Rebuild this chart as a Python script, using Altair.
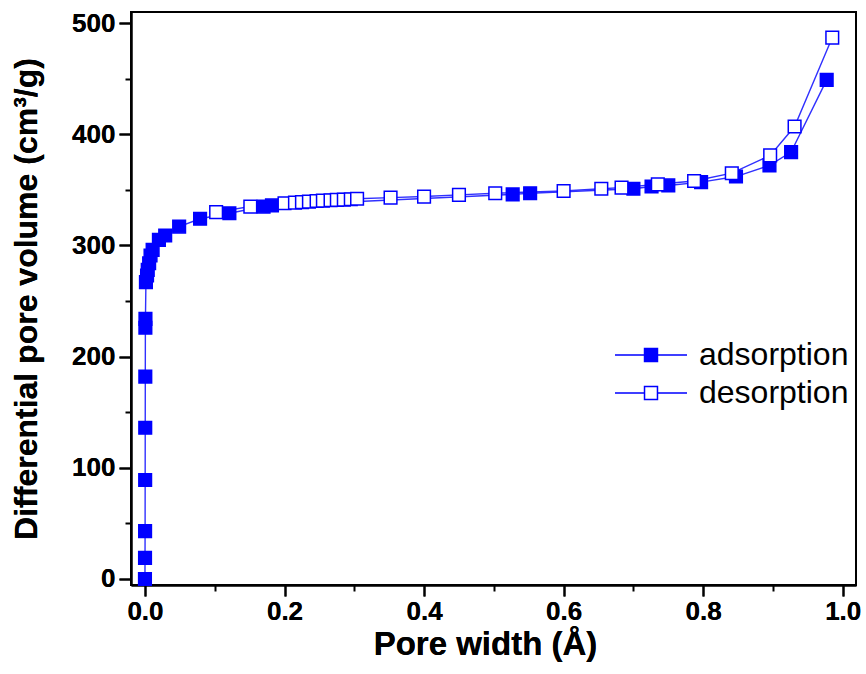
import altair as alt
import pandas as pd

series_names = ["adsorption", "desorption"]

ads_x = [0.0, 0.0001, 0.0002, 0.0003, 0.0004, 0.0005, 0.0006, 0.0007, 0.0014, 0.003,
         0.004, 0.006, 0.008, 0.011, 0.02, 0.029, 0.049, 0.079, 0.121, 0.17, 0.182,
         0.527, 0.552, 0.70, 0.726, 0.75, 0.797, 0.847, 0.895, 0.926, 0.977]
ads_y = [0, 19, 43, 89, 136, 182, 226, 234, 267, 273,
         278, 284, 291, 296, 305, 309, 317, 324, 329, 335, 336,
         346, 347, 351, 353, 354, 357, 362, 372, 384, 449]

des_x = [0.102, 0.151, 0.2, 0.215, 0.225, 0.235, 0.246, 0.255, 0.266, 0.275, 0.285,
         0.295, 0.304, 0.352, 0.40, 0.45, 0.502, 0.60, 0.654, 0.683, 0.735, 0.787,
         0.841, 0.896, 0.931, 0.985]
des_y = [330, 335, 338, 338.5, 339, 339.5, 340, 340.3, 340.7, 341, 341.3,
         341.6, 342, 343, 344, 345.5, 347, 349, 351, 352, 355, 358,
         365, 381, 407, 487]

x_major = [0.0, 0.2, 0.4, 0.6, 0.8, 1.0]
x_minor = [0.1, 0.3, 0.5, 0.7, 0.9]
y_major = [0, 100, 200, 300, 400, 500]
y_minor = [50, 150, 250, 350, 450]

rows = []
for i, (xv, yv) in enumerate(zip(ads_x, ads_y)):
    rows.append({"x": xv, "y": yv, "series": series_names[0], "order": i})
for i, (xv, yv) in enumerate(zip(des_x, des_y)):
    rows.append({"x": xv, "y": yv, "series": series_names[1], "order": i})
df = pd.DataFrame(rows)

FONT = "Liberation Sans"
BLUE = "#0000ff"
LINE_BLUE = "#3030ff"

x_scale = alt.Scale(domain=[-0.02, 1.019], nice=False, zero=False)
y_scale = alt.Scale(domain=[-5.4, 510], nice=False, zero=False)
fill_scale = alt.Scale(domain=series_names, range=[BLUE, "#ffffff"])

x_axis = alt.Axis(values=x_major, format=".1f", title="Pore width (Å)", orient="bottom",
                  labelFont=FONT, labelFontSize=26, labelFontWeight="bold", labelColor="black",
                  labelPadding=2, tickSize=11, tickWidth=2, tickColor="black",
                  domainColor="black", domainWidth=2, grid=False,
                  titleFont=FONT, titleFontSize=33, titleFontWeight="bold", titleColor="black",
                  titlePadding=4, titleX=354)
y_axis = alt.Axis(values=y_major, format="d", title="Differential pore volume (cm³/g)",
                  orient="left",
                  labelFont=FONT, labelFontSize=26, labelFontWeight="bold", labelColor="black",
                  labelPadding=4, tickSize=12, tickWidth=2, tickColor="black",
                  domainColor="black", domainWidth=2, grid=False,
                  titleFont=FONT, titleFontSize=32, titleFontWeight="bold", titleColor="black",
                  titlePadding=28)

x_minor_axis = alt.Axis(values=x_minor, labels=False, domain=False, grid=False, orient="bottom",
                        tickSize=6, tickWidth=2, tickColor="black", title=None)
y_minor_axis = alt.Axis(values=y_minor, labels=False, domain=False, grid=False, orient="left",
                        tickSize=6, tickWidth=2, tickColor="black", title=None)

# custom legend glyph: line with a square in the middle (scaled by sqrt(size)/2 = 12)
legend_path = "M-3,0H-0.54M0.54,0H3M-0.54,-0.54H0.54V0.54H-0.54Z"

base = alt.Chart(df)

lines = base.mark_line(color=LINE_BLUE, strokeWidth=1.4).encode(
    x=alt.X("x:Q", scale=x_scale, axis=x_axis),
    y=alt.Y("y:Q", scale=y_scale, axis=y_axis),
    detail="series:N",
    order="order:Q",
)

points = base.mark_square(size=160, stroke=BLUE, strokeWidth=1.5, opacity=1, fillOpacity=1).encode(
    x=alt.X("x:Q", scale=x_scale, axis=x_axis),
    y=alt.Y("y:Q", scale=y_scale, axis=y_axis),
    fill=alt.Fill("series:N", scale=fill_scale,
                  legend=alt.Legend(title=None, orient="none", legendX=504, legendY=327,
                                    symbolType=legend_path, symbolSize=576,
                                    symbolStrokeColor=BLUE, symbolStrokeWidth=1.5,
                                    symbolOpacity=1,
                                    labelFont=FONT, labelFontSize=32, labelColor="black",
                                    labelOffset=32, rowPadding=6, padding=0)),
)

minor = base.mark_point(opacity=0).encode(
    x=alt.X("x:Q", scale=x_scale, axis=x_minor_axis),
    y=alt.Y("y:Q", scale=y_scale, axis=y_minor_axis),
)

chart = alt.layer(lines, points, minor).resolve_axis(
    x="independent", y="independent"
).properties(
    width=725, height=573,
    autosize=alt.AutoSizeParams(type="none"),
    padding={"left": 131, "top": 12, "right": 10, "bottom": 89},
).configure_view(stroke="black", strokeWidth=2)

chart.save("out.html", embed_options={"renderer": "svg", "actions": False})
